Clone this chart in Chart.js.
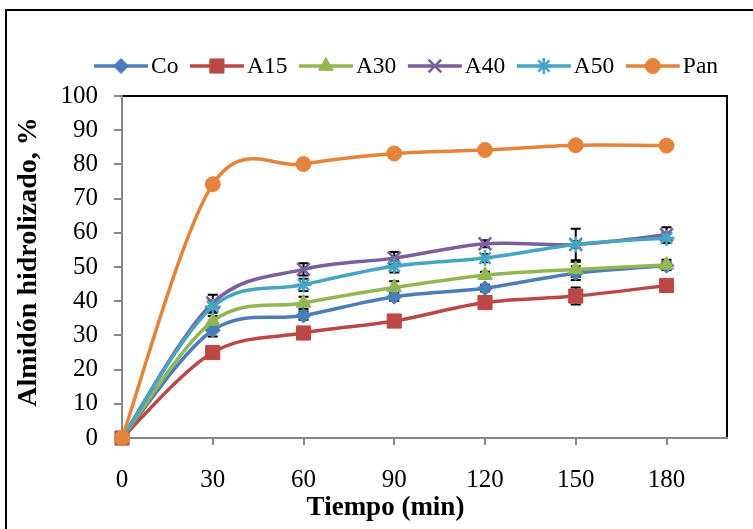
<!DOCTYPE html>
<html lang="es">
<head>
    <meta charset="UTF-8">
    <title>Almidón hidrolizado</title>
    <script src="https://cdn.jsdelivr.net/npm/chart.js"></script>
    <style>
        html, body {
            margin: 0;
            padding: 0;
            background: #fff;
        }

        #grafico {
            display: block;
        }
    </style>
</head>
<body>
<canvas id="grafico" width="753" height="529"></canvas>

<script>
    // Datos (tiempo en min, % de almidon hidrolizado)
    const tiempo = [0, 30, 60, 90, 120, 150, 180];
    const xTicks = [0, 30, 60, 90, 120, 150, 180];
    const etiquetas = ['Co', 'A15', 'A30', 'A40', 'A50', 'Pan'];

    const co  = [0, 31.5, 35.8, 41.3, 43.8, 48.2, 50.4];
    const a15 = [0, 25.0, 30.7, 34.2, 39.6, 41.5, 44.6];
    const a30 = [0, 34.2, 39.5, 44.0, 47.6, 49.3, 50.6];
    const a40 = [0, 39.5, 49.3, 52.6, 56.8, 56.6, 59.4];
    const a50 = [0, 38.4, 44.8, 50.2, 52.6, 56.6, 58.5];
    const pan = [0, 74.2, 80.1, 83.2, 84.2, 85.6, 85.5];

    // desviaciones (barras de error)
    const errCo  = [0, 1.8, 1.2, 1.2, 1.0, 2.0, 1.0];
    const errA15 = [0, 0.8, 0.8, 0.8, 0.8, 2.5, 0.8];
    const errA30 = [0, 1.5, 1.8, 1.8, 1.0, 2.2, 1.5];
    const errA40 = [0, 2.4, 1.8, 1.8, 1.0, 1.0, 2.2];
    const errA50 = [0, 1.8, 1.8, 1.8, 1.2, 4.6, 1.5];
    const errPan = [0, 0.5, 0.5, 0.5, 0.5, 0.5, 0.5];

    const fuenteSerif = '"Liberation Serif", "Times New Roman", serif';

    function puntos(valores) {
        return tiempo.map((t, i) => ({x: t, y: valores[i]}));
    }

    function serie(i, valores, errores, color, estilo, radio, orden) {
        return {
            label: etiquetas[i],
            data: puntos(valores),
            error: errores,
            borderColor: color,
            backgroundColor: color,
            borderWidth: 3.5,
            pointStyle: estilo,
            pointRadius: radio,
            pointBackgroundColor: color,
            pointBorderColor: color,
            pointBorderWidth: (estilo === 'crossRot' || estilo === 'star') ? 2.5 : 1,
            tension: 0.4,
            clip: false,
            order: orden
        };
    }

    // Suavizado como en Excel: puntos de control a 1/6 de (siguiente - anterior)
    const suavizadoExcel = {
        id: 'suavizadoExcel',
        beforeDatasetsDraw(chart) {
            chart.data.datasets.forEach((ds, i) => {
                const meta = chart.getDatasetMeta(i);
                const linea = meta.dataset;
                const pts = meta.data;
                const n = pts.length;
                linea.updateControlPoints(chart.chartArea, meta.indexAxis);
                pts.forEach((p, j) => {
                    const prev = pts[Math.max(j - 1, 0)];
                    const next = pts[Math.min(j + 1, n - 1)];
                    const dx = (next.x - prev.x) / 6;
                    const dy = (next.y - prev.y) / 6;
                    p.cp1x = p.x - dx;
                    p.cp1y = p.y - dy;
                    p.cp2x = p.x + dx;
                    p.cp2y = p.y + dy;
                });
                linea._path = undefined;
            });
        }
    };

    // Barras de error dibujadas detras de las lineas
    const barrasError = {
        id: 'barrasError',
        beforeDatasetsDraw(chart) {
            const {ctx, scales: {x, y}} = chart;
            ctx.save();
            ctx.strokeStyle = '#000';
            ctx.lineWidth = 2;
            chart.data.datasets.forEach(ds => {
                ds.data.forEach((p, j) => {
                    const e = ds.error[j];
                    if (!e) return;
                    const px = x.getPixelForValue(p.x);
                    const arriba = y.getPixelForValue(p.y + e);
                    const abajo = y.getPixelForValue(p.y - e);
                    ctx.beginPath();
                    ctx.moveTo(px, arriba);
                    ctx.lineTo(px, abajo);
                    ctx.moveTo(px - 5, arriba);
                    ctx.lineTo(px + 5, arriba);
                    ctx.moveTo(px - 5, abajo);
                    ctx.lineTo(px + 5, abajo);
                    ctx.stroke();
                });
            });
            ctx.restore();
        }
    };

    // Marco exterior y borde del area de trazado
    const marcos = {
        id: 'marcos',
        beforeDraw(chart) {
            const ctx = chart.ctx;
            const area = chart.chartArea;
            ctx.save();
            ctx.strokeStyle = '#000';
            ctx.lineWidth = 2;
            ctx.strokeRect(6, 10, 800, 600);
            ctx.beginPath();
            ctx.moveTo(area.left, area.top);
            ctx.lineTo(area.right, area.top);
            ctx.lineTo(area.right, area.bottom);
            ctx.stroke();
            ctx.restore();
        }
    };

    // Leyenda tipo Excel: linea con marcador en el centro
    const leyenda = {
        id: 'leyenda',
        afterDraw(chart) {
            const ctx = chart.ctx;
            let x = 94;
            const y = 66;
            ctx.save();
            ctx.font = '23.5px ' + fuenteSerif;
            ctx.textBaseline = 'middle';
            ctx.textAlign = 'left';
            chart.data.datasets.forEach(ds => {
                ctx.strokeStyle = ds.borderColor;
                ctx.lineWidth = ds.borderWidth;
                ctx.beginPath();
                ctx.moveTo(x, y);
                ctx.lineTo(x + 54, y);
                ctx.stroke();

                ctx.fillStyle = ds.pointBackgroundColor;
                ctx.strokeStyle = ds.pointBorderColor;
                ctx.lineWidth = ds.pointBorderWidth;
                Chart.helpers.drawPoint(ctx, {
                    pointStyle: ds.pointStyle,
                    radius: ds.pointRadius,
                    rotation: 0,
                    borderWidth: ds.pointBorderWidth
                }, x + 27, y);

                ctx.fillStyle = '#000';
                ctx.fillText(ds.label, x + 57, y + 1);
                x += 57 + ctx.measureText(ds.label).width + 11.5;
            });
            ctx.restore();
        }
    };

    // Titulos de los ejes (posicion como en el original)
    const titulos = {
        id: 'titulos',
        afterDraw(chart) {
            const ctx = chart.ctx;
            ctx.save();
            ctx.fillStyle = '#000';
            ctx.textAlign = 'center';
            ctx.textBaseline = 'middle';
            ctx.font = 'bold 27px ' + fuenteSerif;
            ctx.fillText('Tiempo (min)', 385.5, 508);
            ctx.translate(29, 262);
            ctx.rotate(-Math.PI / 2);
            ctx.font = 'bold 28px ' + fuenteSerif;
            ctx.fillText('Almidón hidrolizado, %', 0, 0);
            ctx.restore();
        }
    };

    const ctxGrafico = document.getElementById('grafico').getContext('2d');
    const grafico = new Chart(ctxGrafico, {
        type: 'line',
        data: {
            datasets: [
                serie(0, co, errCo, '#4A7EBB', 'rectRot', 7.5, 5),
                serie(1, a15, errA15, '#BB4845', 'rect', 10, 4),
                serie(2, a30, errA30, '#93B651', 'triangle', 8.5, 3),
                serie(3, a40, errA40, '#7A5E9E', 'crossRot', 9, 2),
                serie(4, a50, errA50, '#45A5C2', 'star', 8, 1),
                serie(5, pan, errPan, '#E4843A', 'circle', 7.5, 0)
            ]
        },
        options: {
            responsive: false,
            devicePixelRatio: 1,
            animation: false,
            layout: {
                padding: {left: 6, top: 96, right: 26, bottom: 0}
            },
            plugins: {
                legend: {display: false},
                tooltip: {enabled: false}
            },
            scales: {
                x: {
                    type: 'linear',
                    min: 0,
                    max: 200,
                    afterBuildTicks: scale => {
                        scale.ticks = xTicks.map(v => ({value: v}));
                    },
                    afterFit: scale => {
                        scale.height = 91;
                    },
                    grid: {
                        drawOnChartArea: false,
                        drawTicks: true,
                        tickLength: 7,
                        color: '#878787',
                        lineWidth: 2
                    },
                    border: {color: '#878787', width: 2},
                    ticks: {
                        color: '#000',
                        font: {family: fuenteSerif, size: 25},
                        padding: 20,
                        maxRotation: 0,
                        autoSkip: false
                    }
                },
                y: {
                    min: 0,
                    max: 100,
                    afterFit: scale => {
                        scale.width = 116;
                    },
                    grid: {
                        drawOnChartArea: false,
                        drawTicks: true,
                        tickLength: 8,
                        color: '#878787',
                        lineWidth: 2
                    },
                    border: {color: '#878787', width: 2},
                    ticks: {
                        stepSize: 10,
                        color: '#000',
                        font: {family: fuenteSerif, size: 25},
                        padding: 16
                    }
                }
            }
        },
        plugins: [marcos, suavizadoExcel, barrasError, leyenda, titulos]
    });
</script>
</body>
</html>
